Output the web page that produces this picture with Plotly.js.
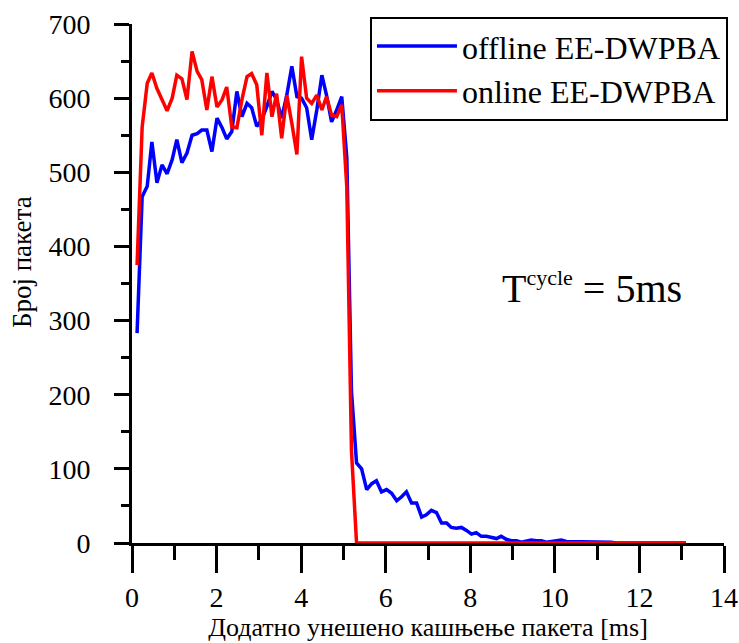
<!DOCTYPE html>
<html>
<head>
<meta charset="utf-8">
<script src="https://cdn.plot.ly/plotly-3.0.1.min.js"></script>
<style>html,body{margin:0;padding:0;background:#fff;}#chart{width:739px;height:643px;}</style>
</head>
<body>
<div id="chart"></div>
<script>
// Added packet delay [ms]
var delayMs = [0.12, 0.24, 0.36, 0.47, 0.59, 0.71, 0.83, 0.95, 1.06, 1.18,
  1.30, 1.42, 1.54, 1.65, 1.77, 1.89, 2.01, 2.13, 2.24, 2.36,
  2.48, 2.60, 2.72, 2.83, 2.95, 3.07, 3.19, 3.31, 3.42, 3.54,
  3.66, 3.78, 3.90, 4.01, 4.13, 4.25, 4.37, 4.49, 4.60, 4.72,
  4.84, 4.96, 5.08, 5.19, 5.31, 5.43, 5.55, 5.67, 5.78, 5.90,
  6.02, 6.14, 6.26, 6.37, 6.49, 6.61, 6.73, 6.85, 6.96, 7.08,
  7.20, 7.32, 7.44, 7.55, 7.67, 7.79, 7.91, 8.03, 8.14, 8.26,
  8.38, 8.50, 8.62, 8.73, 8.85, 8.97, 9.09, 9.21, 9.32, 9.44,
  9.56, 9.68, 9.80, 9.91, 10.03, 10.15, 10.27, 10.39, 10.50, 10.62,
  10.74, 10.86, 10.98, 11.09, 11.21, 11.33, 11.45, 11.57, 11.68, 11.80,
  11.92, 12.04, 12.16, 12.27, 12.39, 12.51, 12.63, 12.75, 12.86, 12.98,
  13.10];

var offlinePackets = [283, 467, 481, 541, 486, 510, 498, 517, 544, 513, 526,
  550, 552, 557, 557, 528, 573, 560, 545, 555, 609,
  575, 593, 587, 562, 571, 589, 609, 598, 573, 604,
  643, 602, 600, 587, 544, 584, 631, 604, 568, 584, 602,
  520, 205, 108, 100, 72, 80, 84, 69, 72,
  67, 57, 62, 69, 54, 54, 35, 38, 44, 41,
  27, 27, 21, 20, 21, 17, 12, 14, 9, 9,
  7, 6, 9, 5, 3, 3, 1, 2, 4, 3,
  3, 1, 2, 3, 4, 2, 2, 1, 2, 1,
  2, 1, 1, 1, 1, 0, 0, 0, 0, 0,
  0, 0, 0, 0, 0, 0, 0, 0, 0, 0];

var onlinePackets = [375, 561, 620, 634, 613, 598, 583, 600, 631, 626, 598,
  663, 636, 625, 584, 629, 588, 598, 615, 561, 560,
  598, 629, 633, 618, 550, 634, 575, 606, 546, 604,
  566, 524, 656, 600, 593, 604, 584, 602, 577, 575, 591,
  480, 125,
  0, 0, 0, 0, 0, 0, 0, 0, 0, 0,
  0, 0, 0, 0, 0, 0, 0, 0, 0, 0,
  0, 0, 0, 0, 0, 0, 0, 0, 0, 0,
  0, 0, 0, 0, 0, 0, 0, 0, 0, 0,
  0, 0, 0, 0, 0, 0, 0, 0, 0, 0,
  0, 0, 0, 0, 0, 0, 0, 0, 0, 0,
  0, 0, 0, 0, 0, 0, 0];

var seriesNames = ['offline EE-DWPBA', 'online EE-DWPBA'];
var xTitle = 'Додатно унешено кашњење пакета [ms]';
var yTitle = 'Број пакета';
var noteText = 'T<sup><span style="font-size:22px">cycle</span></sup> = 5ms';

var serif = 'Liberation Serif';

var traces = [
  {x: delayMs, y: offlinePackets, name: seriesNames[0], type: 'scatter', mode: 'lines',
   line: {color: '#0000ff', width: 3.5}, cliponaxis: false},
  {x: delayMs, y: onlinePackets, name: seriesNames[1], type: 'scatter', mode: 'lines',
   line: {color: '#ff0000', width: 3.5}, cliponaxis: false}
];

var layout = {
  width: 739, height: 643,
  margin: {l: 132, r: 14, t: 24, b: 100},
  paper_bgcolor: '#ffffff', plot_bgcolor: '#ffffff',
  font: {family: serif, color: '#000', size: 28},
  showlegend: true,
  legend: {
    x: 1.005, xanchor: 'right', y: 1.014, yanchor: 'top',
    bordercolor: '#000', borderwidth: 2, bgcolor: '#fff',
    font: {family: serif, size: 32, color: '#000'},
    itemwidth: 80, tracegroupgap: 0
  },
  xaxis: {
    range: [0, 14], dtick: 2, tick0: 0,
    showgrid: false, zeroline: false,
    showline: true, linecolor: '#000', linewidth: 3,
    ticks: 'outside', ticklen: 27, tickwidth: 3, tickcolor: '#000',
    minor: {dtick: 1, tick0: 0, ticks: 'outside', ticklen: 14, tickwidth: 3, tickcolor: '#000', showgrid: false},
    tickfont: {family: serif, size: 28, color: '#000'},
    title: {text: xTitle, font: {family: serif, size: 26, color: '#000'}, standoff: 5},
    layer: 'below traces'
  },
  yaxis: {
    range: [0, 700], dtick: 100, tick0: 0,
    showgrid: false, zeroline: false,
    showline: true, linecolor: '#000', linewidth: 3,
    ticks: 'outside', ticklen: 15, tickwidth: 3, tickcolor: '#000',
    minor: {dtick: 50, tick0: 0, ticks: 'outside', ticklen: 8, tickwidth: 3, tickcolor: '#000', showgrid: false},
    tickfont: {family: serif, size: 28, color: '#000'},
    ticklabelstandoff: 18,
    layer: 'below traces'
  },
  annotations: [{
    xref: 'paper', yref: 'paper', x: -0.186, y: 0.541, xanchor: 'center', yanchor: 'middle',
    text: yTitle, textangle: -90, showarrow: false,
    font: {family: serif, size: 27, color: '#000'}
  }, {
    xref: 'paper', yref: 'paper', x: 0.621, y: 0.492, xanchor: 'left', yanchor: 'middle',
    text: noteText, showarrow: false,
    font: {family: serif, size: 40, color: '#000'}
  }]
};

Plotly.newPlot('chart', traces, layout, {displayModeBar: false, staticPlot: true});
</script>
</body>
</html>
